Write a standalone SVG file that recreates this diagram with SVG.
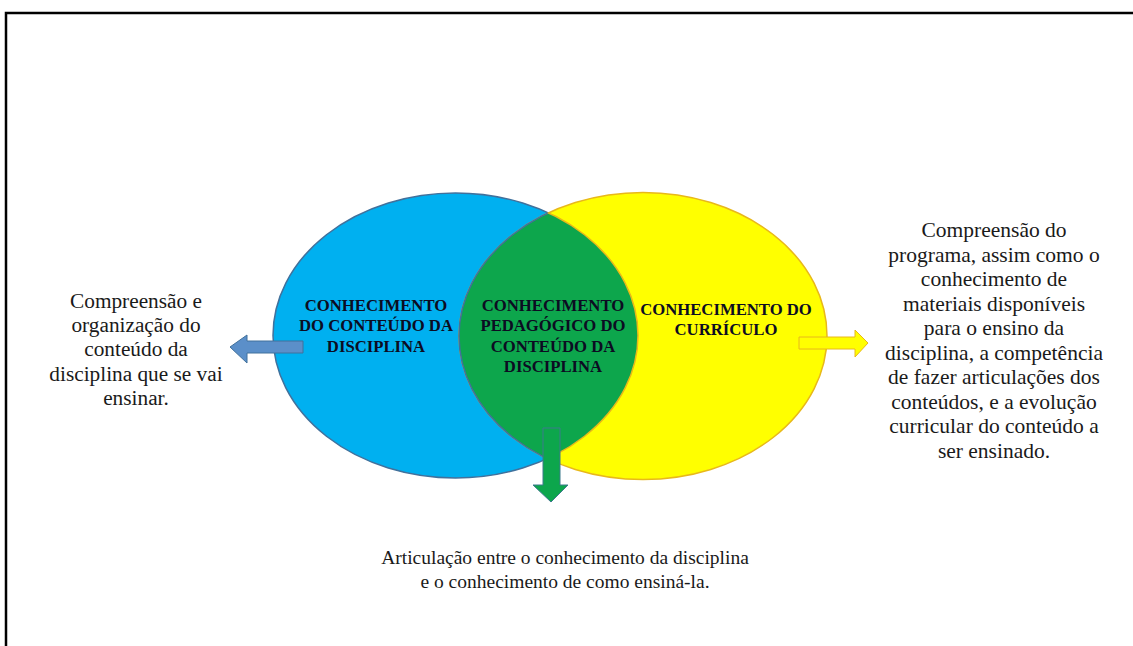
<svg xmlns="http://www.w3.org/2000/svg" width="1133" height="646" viewBox="0 0 1133 646">
<style>
text{font-family:'Liberation Serif','DejaVu Serif','Times New Roman',serif;text-anchor:middle}
.lbl{font-weight:bold;font-size:16.7px;fill:#0c0c22}
.txt{fill:#1a1a1a}
#text-left .txt{font-size:21.3px}
#text-right .txt{font-size:21.5px}
#text-bottom .txt{font-size:19.5px}
</style>
<defs>
<clipPath id="clipBlue"><ellipse cx="455.5" cy="335.5" rx="182.5" ry="142.5"/></clipPath>
<clipPath id="clipYellow"><ellipse cx="643" cy="336" rx="184" ry="143.5"/></clipPath>
</defs>
<rect x="0" y="0" width="1133" height="646" fill="#ffffff"/>
<rect x="6" y="13" width="1140" height="650" fill="none" stroke="#000" stroke-width="2.5"/>
<g id="node-conteudo">
<ellipse cx="455.5" cy="335.5" rx="182.5" ry="142.5" fill="#00B0F0" stroke="#41719C" stroke-width="1.5"/>
</g>
<g id="node-curriculo">
<ellipse cx="643" cy="336" rx="184" ry="143.5" fill="#FFFF00" stroke="#E8B81A" stroke-width="1.5"/>
</g>
<g id="node-pedagogico">
<ellipse cx="643" cy="336" rx="184" ry="143.5" fill="#0DA64C" clip-path="url(#clipBlue)"/>
<ellipse cx="643" cy="336" rx="184" ry="143.5" fill="none" stroke="#41719C" stroke-width="1.5" clip-path="url(#clipBlue)"/>
<ellipse cx="455.5" cy="335.5" rx="182.5" ry="142.5" fill="none" stroke="#E8B81A" stroke-width="1.5" clip-path="url(#clipYellow)"/>
</g>
<g id="labels">
<text class="lbl" x="376" y="311">CONHECIMENTO</text>
<text class="lbl" x="376" y="331">DO CONTEÚDO DA</text>
<text class="lbl" x="376" y="352">DISCIPLINA</text>
<text class="lbl" x="553" y="311">CONHECIMENTO</text>
<text class="lbl" x="553" y="331">PEDAGÓGICO DO</text>
<text class="lbl" x="553" y="352">CONTEÚDO DA</text>
<text class="lbl" x="553" y="372">DISCIPLINA</text>
<text class="lbl" x="726" y="315">CONHECIMENTO DO</text>
<text class="lbl" x="726" y="335">CURRÍCULO</text>
</g>
<g id="connectors">
<path d="M303,341 L247,341 L247,335 L230,347 L247,363 L247,353 L303,353 Z" fill="#5B8FC9" stroke="#41719C" stroke-width="1"/>
<path d="M799,337 L855,337 L855,330 L868,343 L855,357 L855,349 L799,349 Z" fill="#FFFF00" stroke="#E8B81A" stroke-width="1"/>
<path d="M543,428 L560,428 L560,485 L568,485 L551,502 L533,485 L543,485 Z" fill="#0DA64C" stroke="#3D7A8C" stroke-width="1"/>
</g>
<g id="text-left">
<text class="txt" x="136" y="308">Compreensão e</text>
<text class="txt" x="136" y="332">organização do</text>
<text class="txt" x="136" y="356">conteúdo da</text>
<text class="txt" x="136" y="381">disciplina que se vai</text>
<text class="txt" x="136" y="405">ensinar.</text>
</g>
<g id="text-right">
<text class="txt" x="994" y="237">Compreensão do</text>
<text class="txt" x="994" y="262">programa, assim como o</text>
<text class="txt" x="994" y="286">conhecimento de</text>
<text class="txt" x="994" y="311">materiais disponíveis</text>
<text class="txt" x="994" y="335">para o ensino da</text>
<text class="txt" x="994" y="360">disciplina, a competência</text>
<text class="txt" x="994" y="384">de fazer articulações dos</text>
<text class="txt" x="994" y="409">conteúdos, e a evolução</text>
<text class="txt" x="994" y="433">curricular do conteúdo a</text>
<text class="txt" x="994" y="458">ser ensinado.</text>
</g>
<g id="text-bottom">
<text class="txt" x="565" y="564">Articulação entre o conhecimento da disciplina</text>
<text class="txt" x="565" y="588">e o conhecimento de como ensiná-la.</text>
</g>
</svg>
